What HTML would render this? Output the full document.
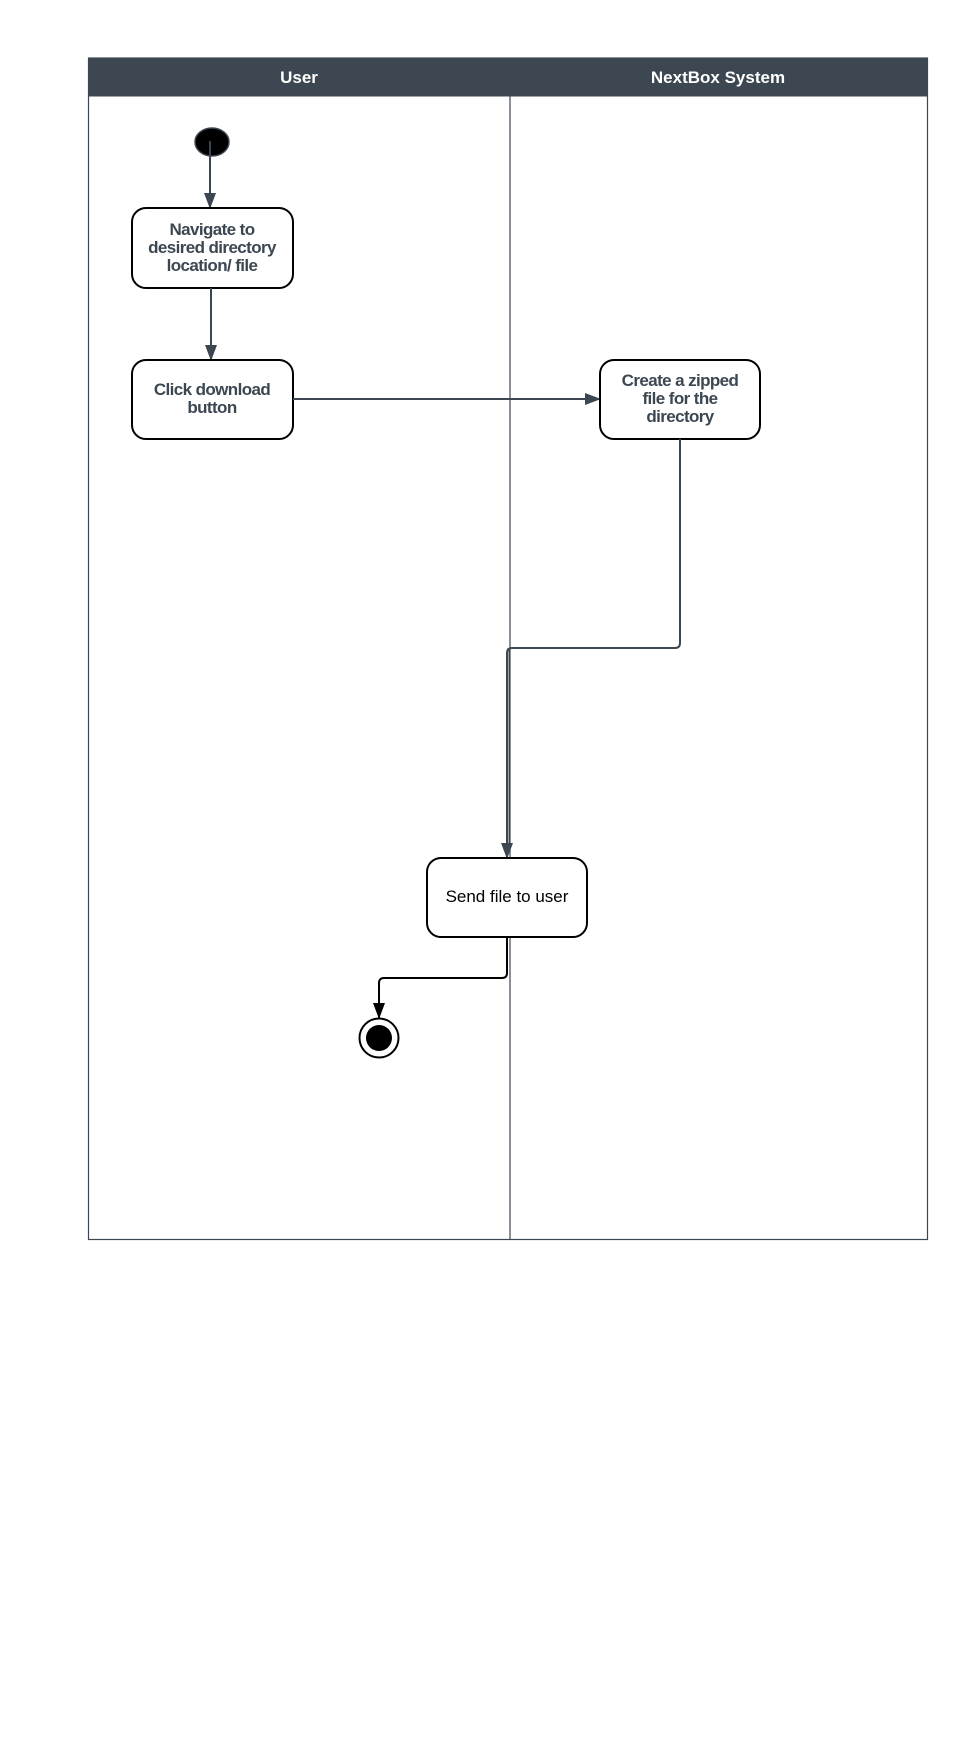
<!DOCTYPE html>
<html><head><meta charset="utf-8"><style>
html,body{margin:0;padding:0;background:#fff;width:960px;height:1760px;overflow:hidden}
svg{display:block}
.t{font-family:"Liberation Sans",sans-serif;font-weight:bold;font-size:17px;fill:#3d4752;text-anchor:middle;letter-spacing:-0.6px}
</style></head><body>
<svg width="960" height="1760" viewBox="0 0 960 1760" xmlns="http://www.w3.org/2000/svg">
<defs>
<marker id="a" markerWidth="16" markerHeight="12" refX="15" refY="6" orient="auto" markerUnits="userSpaceOnUse"><path d="M0,0 L16,6 L0,12 z" fill="#3d4752"/></marker>
<marker id="b" markerWidth="16" markerHeight="12" refX="15" refY="6" orient="auto" markerUnits="userSpaceOnUse"><path d="M0,0 L16,6 L0,12 z" fill="#000"/></marker>
</defs>
<rect x="88.5" y="58" width="839" height="38.5" fill="#3d4752"/>
<rect x="88.5" y="58" width="839" height="1181.5" fill="none" stroke="#3d4752" stroke-width="1.2"/>
<line x1="510" y1="96" x2="510" y2="1239.5" stroke="#3d4752" stroke-width="1.2"/>
<text x="299" y="83" font-family="Liberation Sans,sans-serif" font-weight="bold" font-size="17" fill="#fff" text-anchor="middle">User</text>
<text x="718" y="83" font-family="Liberation Sans,sans-serif" font-weight="bold" font-size="17" fill="#fff" text-anchor="middle">NextBox System</text>

<ellipse cx="212" cy="142" rx="17" ry="14" fill="#000" stroke="#3d4752" stroke-width="1.5"/>
<line x1="210" y1="141" x2="210" y2="208" stroke="#3d4752" stroke-width="2" marker-end="url(#a)"/>

<rect x="132" y="208" width="161" height="80" rx="14" fill="#fff" stroke="#000" stroke-width="2"/>
<text x="212" y="235" class="t">Navigate to</text><text x="212" y="253" class="t">desired directory</text><text x="212" y="271" class="t">location/ file</text>
<line x1="211" y1="288" x2="211" y2="360" stroke="#3d4752" stroke-width="2" marker-end="url(#a)"/>

<rect x="132" y="360" width="161" height="79" rx="14" fill="#fff" stroke="#000" stroke-width="2"/>
<text x="212" y="395" class="t">Click download</text>
<text x="212" y="413" class="t">button</text>
<line x1="293" y1="399" x2="600" y2="399" stroke="#3d4752" stroke-width="2" marker-end="url(#a)"/>

<rect x="600" y="360" width="160" height="79" rx="14" fill="#fff" stroke="#000" stroke-width="2"/>
<text x="680" y="386" class="t">Create a zipped</text>
<text x="680" y="404" class="t">file for the</text>
<text x="680" y="422" class="t">directory</text>

<path d="M680,439 V643 Q680,648 675,648 H512 Q507,648 507,653 V858" fill="none" stroke="#3d4752" stroke-width="2" marker-end="url(#a)"/>
<line x1="509" y1="650" x2="509" y2="845" stroke="#3d4752" stroke-width="1"/>

<rect x="427" y="858" width="160" height="79" rx="14" fill="#fff" stroke="#000" stroke-width="2"/>
<text x="507" y="902" font-family="Liberation Sans,sans-serif" font-size="17" fill="#000" text-anchor="middle">Send file to user</text>

<path d="M507,937 V973 Q507,978 502,978 H384 Q379,978 379,983 V1018" fill="none" stroke="#000" stroke-width="2" marker-end="url(#b)"/>
<circle cx="379" cy="1038" r="19.5" fill="#fff" stroke="#000" stroke-width="2"/>
<circle cx="379" cy="1038" r="13" fill="#000"/>
</svg>
</body></html>
